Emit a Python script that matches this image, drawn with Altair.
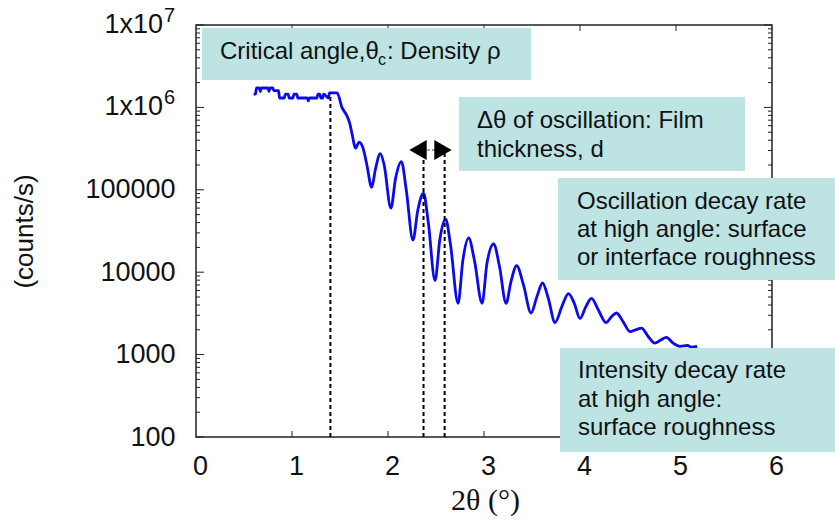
import altair as alt
import pandas as pd

# X-ray reflectivity scan: detector angle 2θ (degrees) and intensity (counts/s)
two_theta = [
    0.60, 0.62, 0.63, 0.66, 0.67, 0.68, 0.75, 0.76, 0.77, 0.80, 0.81, 0.86,
    0.87, 0.92, 0.93, 0.96, 0.97, 1.01, 1.02, 1.05, 1.06, 1.16, 1.17, 1.18,
    1.26, 1.27, 1.29, 1.30, 1.32, 1.33, 1.38, 1.39, 1.47,
    1.52, 1.57, 1.60, 1.63, 1.66, 1.70, 1.74, 1.78, 1.83, 1.87, 1.92, 1.96,
    2.03, 2.08, 2.14, 2.19, 2.26, 2.31, 2.37, 2.42, 2.49, 2.54, 2.60, 2.65,
    2.73, 2.78, 2.84, 2.90, 2.98, 3.03, 3.10, 3.16, 3.23, 3.28, 3.34, 3.41,
    3.49, 3.55, 3.61, 3.67, 3.74, 3.81, 3.88, 3.94, 4.00, 4.06, 4.12, 4.19,
    4.27, 4.33, 4.38, 4.45, 4.52, 4.58, 4.64, 4.71, 4.78, 4.84, 4.90, 4.97,
    5.04, 5.12, 5.16, 5.22,
]
counts = [
    1.45e6, 1.45e6, 1.72e6, 1.72e6, 1.55e6, 1.72e6, 1.72e6, 1.55e6, 1.72e6, 1.72e6, 1.60e6, 1.60e6,
    1.30e6, 1.30e6, 1.45e6, 1.45e6, 1.30e6, 1.30e6, 1.45e6, 1.45e6, 1.30e6, 1.30e6, 1.20e6, 1.30e6,
    1.30e6, 1.45e6, 1.45e6, 1.30e6, 1.30e6, 1.45e6, 1.30e6, 1.50e6, 1.50e6,
    1.00e6, 8.0e5, 6.5e5, 4.5e5, 3.2e5, 3.8e5, 3.2e5, 2.0e5, 1.07e5, 1.8e5, 2.75e5, 2.0e5,
    6.0e4, 1.4e5, 2.2e5, 1.0e5, 2.45e4, 5.6e4, 9.1e4, 4.0e4, 7.9e3, 2.5e4, 4.4e4, 2.2e4,
    4.2e3, 1.4e4, 2.6e4, 1.4e4, 4.2e3, 1.26e4, 2.2e4, 1.2e4, 4.2e3, 7.6e3, 1.2e4, 7.1e3,
    3.2e3, 5.0e3, 7.4e3, 4.8e3, 2.45e3, 3.8e3, 5.5e3, 4.2e3, 2.75e3, 3.8e3, 4.8e3, 3.5e3,
    2.45e3, 2.9e3, 3.2e3, 2.5e3, 1.9e3, 2.0e3, 2.1e3, 1.66e3, 1.38e3, 1.5e3, 1.62e3, 1.38e3,
    1.26e3, 1.29e3, 1.23e3, 1.26e3,
]

decades = [100, 1000, 10000, 100000, 1000000, 10000000]
x_tick_values = [0, 1, 2, 3, 4, 5, 6]
inner_x_ticks = [1, 2, 3, 4, 5]
power_exponents = ["6", "7"]

# dotted guides: critical angle and one fringe period
marker_angles = [1.40, 2.37, 2.59]
marker_tops = [1.5e6, 3.0e5, 3.0e5]

note_critical = ["Critical angle,θ", "c", ": Density ρ"]
note_thickness = ["Δθ of oscillation: Film", "thickness, d"]
note_interface = ["Oscillation decay rate", "at high angle: surface", "or interface roughness"]
note_surface = ["Intensity decay rate", "at high angle:", "surface roughness"]

W, H = 576, 412
FONT = "Liberation Sans"
INK = "#111111"
BOX = "#bde3e3"
LINE = "#0a0af0"
NOTE_SIZE = 24

x_scale = alt.Scale(domain=[0, 6], nice=False, zero=False)
y_scale = alt.Scale(type="log", domain=[100, 1e7], nice=False)

x_axis = alt.Axis(
    values=x_tick_values, grid=False, domain=False, ticks=False,
    labelFont=FONT, labelFontSize=27, labelColor=INK, labelPadding=16,
    labelOffset=4, labelFlush=False,
    title="2θ (°)", titleFont="Liberation Serif", titleFontSize=30,
    titleFontWeight="normal", titleColor=INK, titleX=289, titleY=63,
    titleAlign="center", titleBaseline="middle",
)
y_axis = alt.Axis(
    values=decades, grid=False, domain=False, ticks=False,
    labelExpr="datum.value >= 1000000 ? '' : format(datum.value, 'd')",
    labelFont=FONT, labelFontSize=27, labelColor=INK, labelPadding=21,
    labelFlush=False,
    title="(counts/s)", titleFont=FONT, titleFontSize=26, titleFontWeight="normal",
    titleColor=INK, titleAngle=270, titleX=-172, titleY=206,
    titleAlign="center", titleBaseline="middle",
)


def X(field):
    return alt.X(field, type="quantitative", scale=x_scale, axis=x_axis)


def Y(field):
    return alt.Y(field, type="quantitative", scale=y_scale, axis=y_axis)


one_row = alt.Data(values=[{}])
scan = pd.DataFrame({"two_theta": two_theta, "counts": counts})

minor_values = [m * d for d in decades[:-1] for m in range(2, 10)]
major_df = pd.DataFrame({"v": decades})
minor_df = pd.DataFrame({"v": minor_values})
xtick_df = pd.DataFrame({"t": inner_x_ticks})

layers = []

# plot frame
layers.append(
    alt.Chart(one_row).mark_rect(fill="transparent", stroke="#222222", strokeWidth=1.5).encode(
        x=alt.value(0), x2=alt.value(W), y=alt.value(0), y2=alt.value(H)
    )
)

# inward ticks on all four sides
for df, length in ((major_df, 8), (minor_df, 4)):
    layers.append(
        alt.Chart(df).mark_rule(color="#222222", strokeWidth=1).encode(
            y=Y("v"), x=alt.value(0), x2=alt.value(length)
        )
    )
    layers.append(
        alt.Chart(df).mark_rule(color="#222222", strokeWidth=1).encode(
            y=Y("v"), x=alt.value(W - length), x2=alt.value(W)
        )
    )
layers.append(
    alt.Chart(xtick_df).mark_rule(color="#222222", strokeWidth=1).encode(
        x=X("t"), y=alt.value(H - 6), y2=alt.value(H)
    )
)
layers.append(
    alt.Chart(xtick_df).mark_rule(color="#222222", strokeWidth=1).encode(
        x=X("t"), y=alt.value(0), y2=alt.value(6)
    )
)

# reflectivity curve
layers.append(
    alt.Chart(scan).mark_line(color=LINE, strokeWidth=2.8, interpolate="monotone").encode(
        x=X("two_theta"), y=Y("counts")
    )
)

# dotted guide lines
markers = pd.DataFrame({"angle": marker_angles, "top": marker_tops, "floor": [100] * len(marker_angles)})
layers.append(
    alt.Chart(markers).mark_rule(color="black", strokeWidth=2, strokeDash=[4, 3]).encode(
        x=X("angle"), y=Y("floor"), y2="top:Q"
    )
)

# y labels written as powers of ten
powers = pd.DataFrame({"v": decades[-2:], "exp": power_exponents})
layers.append(
    alt.Chart(powers).mark_text(
        text="1x10", align="right", baseline="middle", font=FONT, fontSize=27, color=INK
    ).encode(y=Y("v"), x=alt.value(-33))
)
layers.append(
    alt.Chart(powers).mark_text(
        align="left", baseline="middle", font=FONT, fontSize=20, color=INK, dy=-9
    ).encode(y=Y("v"), x=alt.value(-32), text="exp:N")
)

# annotation boxes (pixel layout)
boxes = [(6, 335, 3, 55), (263, 549, 72, 146), (362, 639, 153, 255), (364, 639, 323, 427)]
for x0, x1, y0, y1 in boxes:
    layers.append(
        alt.Chart(one_row).mark_rect(color=BOX).encode(
            x=alt.value(x0), x2=alt.value(x1), y=alt.value(y0), y2=alt.value(y1)
        )
    )


def text_line(s, x, y, size=NOTE_SIZE, dy=0):
    return alt.Chart(one_row).mark_text(
        text=s, align="left", baseline="middle", font=FONT, fontSize=size, color=INK, dy=dy
    ).encode(x=alt.value(x), y=alt.value(y))


layers.append(text_line(note_critical[0], 24, 27))
layers.append(text_line(note_critical[1], 182, 27, size=16, dy=8))
layers.append(text_line(note_critical[2], 191, 27))

for block, x0, y0, step in (
    (note_thickness, 281, 96, 29),
    (note_interface, 381, 177, 28),
    (note_surface, 382, 346, 28.5),
):
    for i, s in enumerate(block):
        layers.append(text_line(s, x0, y0 + i * step))

# double-headed arrow marking one fringe period
layers.append(
    alt.Chart(one_row).mark_rule(color="#888888", strokeWidth=1.5, strokeDash=[3, 2]).encode(
        x=alt.value(226), x2=alt.value(241), y=alt.value(125)
    )
)
for shape, px in (("triangle-left", 222), ("triangle-right", 247)):
    layers.append(
        alt.Chart(one_row).mark_point(
            shape=shape, filled=True, size=400, color="black", opacity=1
        ).encode(x=alt.value(px), y=alt.value(125))
    )

chart = alt.layer(*layers).properties(
    width=W,
    height=H,
    autosize=alt.AutoSizeParams(type="none"),
    padding={"left": 196, "top": 25, "right": 63, "bottom": 85},
    background="white",
).configure_view(stroke=None)

chart.save("out.html", embed_options={"renderer": "svg", "actions": False})
